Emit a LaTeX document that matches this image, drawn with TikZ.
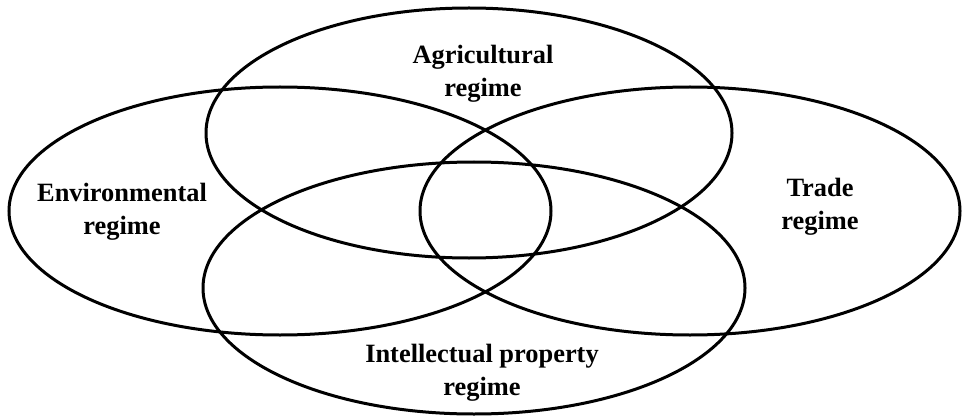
\documentclass[tikz,border=0pt]{standalone}
\usepackage{fontspec}
\setmainfont{Liberation Serif}
\usetikzlibrary{positioning}

\begin{document}
\begin{tikzpicture}[
  x=0.5pt,y=-0.5pt,
  regime/.style={draw=black,line width=1.5pt},
  lbl/.style={align=center,inner sep=0pt,font=\fontsize{13.2}{16.5}\selectfont\bfseries}
]
  \useasboundingbox (0,0) rectangle (964,417);
  % the four overlapping regimes
  \coordinate (agriC) at (469,133);
  \coordinate (envC) at (280,211);
  \coordinate (tradeC) at (690,211);
  \coordinate (ipC) at (474,288);
  \draw[regime] (agriC) ellipse [x radius=263,y radius=125];
  \draw[regime] (envC) ellipse [x radius=271,y radius=124];
  \draw[regime] (tradeC) ellipse [x radius=270,y radius=124];
  \draw[regime] (ipC) ellipse [x radius=271,y radius=126];
  \node[lbl] (agri) at (483,74) {Agricultural\\regime};
  \node[lbl] (env) at (122,212) {Environmental\\regime};
  \node[lbl] (trade) at (820,207) {Trade\\regime};
  \node[lbl] (ip) at (482,373) {Intellectual property\\regime};
\end{tikzpicture}
\end{document}
